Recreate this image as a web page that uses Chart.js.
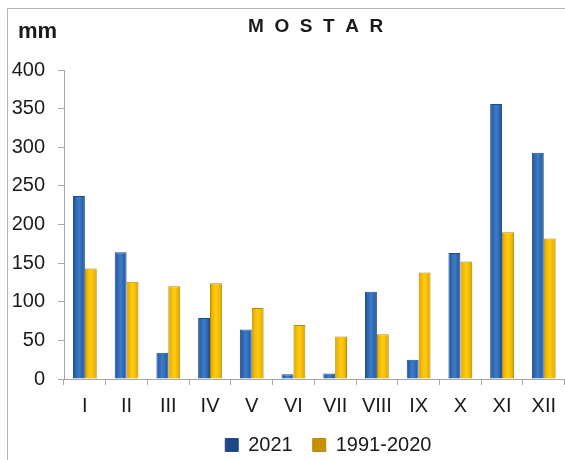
<!DOCTYPE html>
<html>
<head>
<meta charset="utf-8">
<script src="https://cdn.jsdelivr.net/npm/chart.js@4/dist/chart.umd.min.js"></script>
<style>
    html, body { margin: 0; padding: 0; background: #fff; }
    #wrap { width: 565px; height: 460px; }
</style>
</head>
<body>
<div id="wrap"><canvas id="chart" width="565" height="460"></canvas></div>
<script>
const months = ['I', 'II', 'III', 'IV', 'V', 'VI', 'VII', 'VIII', 'IX', 'X', 'XI', 'XII'];
const rain2021 = [237, 164, 34, 79, 64, 6, 7, 113, 25, 163, 356, 293];
const rainNormal = [143, 126, 120, 124, 92, 70, 55, 58, 138, 152, 190, 182];
const yTicks = [0, 50, 100, 150, 200, 250, 300, 350, 400];

const FONT = "'Liberation Sans', Arial, sans-serif";
const CAT_PCT = 0.57;

// horizontal shading like the Excel bevelled bars
function barFill(dsIndex, dark, mid, light) {
    return function (ctx) {
        const chart = ctx.chart;
        const xs = chart.scales && chart.scales.x;
        if (ctx.dataIndex === undefined || !xs || !xs.width) return mid;
        const center = xs.getPixelForValue(ctx.dataIndex);
        const half = xs.width / months.length * CAT_PCT / 2;
        const x0 = dsIndex === 0 ? center - half : center;
        const g = chart.ctx.createLinearGradient(x0, 0, x0 + half, 0);
        g.addColorStop(0, dark);
        g.addColorStop(0.2, mid);
        g.addColorStop(0.5, light);
        g.addColorStop(0.8, mid);
        g.addColorStop(1, dark);
        return g;
    };
}

const decorations = {
    id: 'decorations',
    afterLayout(chart) {
        // legend sits a little right of centre in the original
        if (chart.legend) { chart.legend.left += 14; chart.legend.right += 14; }
    },
    afterDraw(chart) {
        const c = chart.ctx;
        c.save();
        // outer frame (left and top edges only)
        c.strokeStyle = '#b4b4b4';
        c.lineWidth = 1;
        c.beginPath();
        c.moveTo(7.5, 460);
        c.lineTo(7.5, 8.5);
        c.lineTo(565, 8.5);
        c.stroke();

        c.fillStyle = '#1a1a1a';
        c.textBaseline = 'alphabetic';
        c.font = 'bold 22px ' + FONT;
        c.fillText('mm', 18, 38);

        // spaced title
        c.font = 'bold 19px ' + FONT;
        const title = 'MOSTAR';
        let x = 248;
        for (const ch of title) {
            c.fillText(ch, x, 32);
            x += c.measureText(ch).width + 10.6;
        }
        c.restore();
    }
};

new Chart(document.getElementById('chart'), {
    type: 'bar',
    data: {
        labels: months,
        datasets: [
            {
                label: '2021',
                data: rain2021,
                backgroundColor: barFill(0, '#1d4785', '#2c64b0', '#3e7cc8'),
                borderColor: '#1f4c8e',
                borderWidth: 1,
                categoryPercentage: CAT_PCT,
                barPercentage: 1
            },
            {
                label: '1991-2020',
                data: rainNormal,
                backgroundColor: barFill(1, '#c69200', '#f0b800', '#ffcc10'),
                borderColor: '#b68a00',
                borderWidth: 1,
                categoryPercentage: CAT_PCT,
                barPercentage: 1
            }
        ]
    },
    options: {
        responsive: false,
        animation: false,
        layout: { padding: { left: 9, right: 0, top: 70, bottom: -5 } },
        plugins: {
            legend: {
                position: 'bottom',
                fullSize: false,
                labels: {
                    boxWidth: 13,
                    boxHeight: 13,
                    padding: 20,
                    color: '#1a1a1a',
                    font: { family: FONT, size: 20 }
                }
            },
            tooltip: { enabled: false }
        },
        scales: {
            x: {
                afterFit: (s) => { s.height = 36; },
                grid: { drawOnChartArea: false, offset: true, tickLength: 6, color: '#a6a6a6' },
                border: { color: '#a6a6a6' },
                ticks: { color: '#1a1a1a', padding: 9, font: { family: FONT, size: 20 } }
            },
            y: {
                min: 0,
                max: 400,
                afterFit: (s) => { s.width = 55; },
                afterBuildTicks: (s) => { s.ticks = yTicks.map(v => ({ value: v })); },
                grid: { drawOnChartArea: false, tickLength: 6, color: '#a6a6a6' },
                border: { color: '#a6a6a6' },
                ticks: { color: '#1a1a1a', padding: 13, font: { family: FONT, size: 20 } }
            }
        }
    },
    plugins: [decorations]
});
</script>
</body>
</html>
